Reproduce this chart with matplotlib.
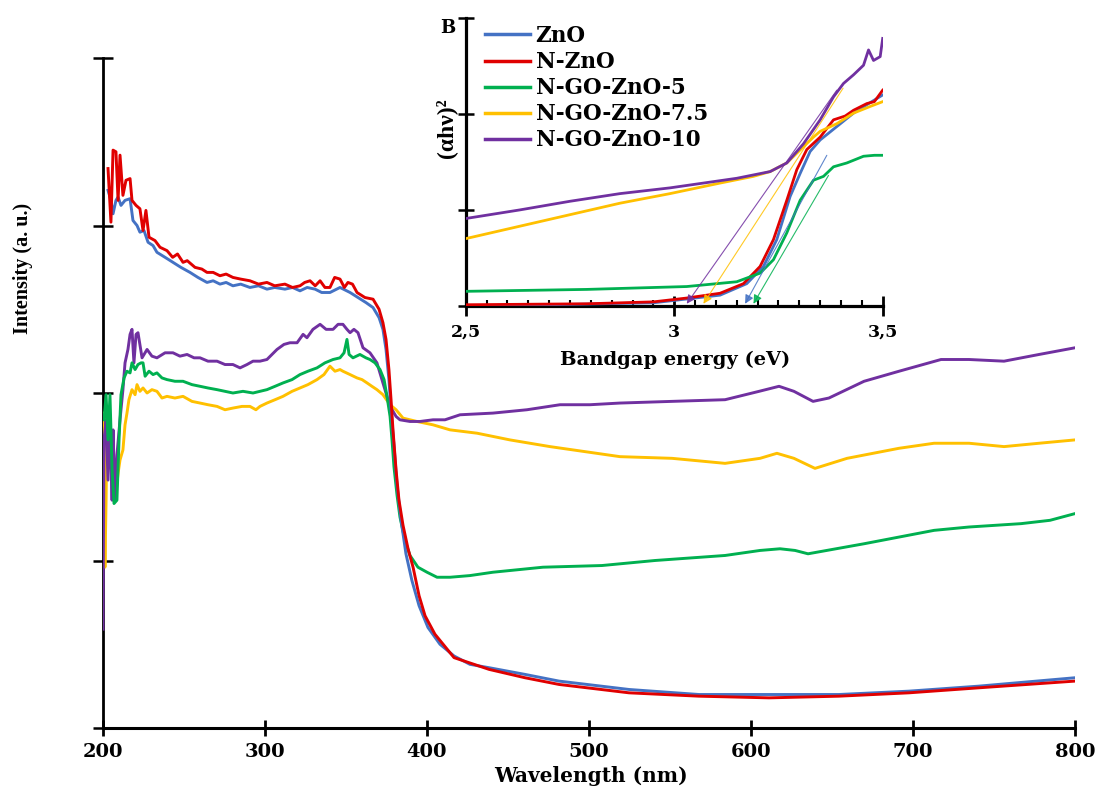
import matplotlib
matplotlib.use("Agg")
import matplotlib.pyplot as plt
from matplotlib.ticker import MultipleLocator, NullFormatter
from matplotlib.lines import Line2D

plt.rcParams["font.family"] = ["DejaVu Serif"]
plt.rcParams["font.weight"] = "bold"

# ---------------- UV-Vis reflectance spectra (main panel) ----------------
labels = ["ZnO", "N-ZnO", "N-GO-ZnO-5", "N-GO-ZnO-7.5", "N-GO-ZnO-10"]
colors = ["#4472C4", "#E00000", "#00B050", "#FFC000", "#7030A0"]

wl_zno = [203.1, 204.9, 206.2, 208.0, 209.3, 211.1, 213.6, 216.7, 218.5, 221.0, 222.8, 225.3,
          227.8, 230.9, 233.3, 238.3, 243.2, 248.1, 253.7, 258.6, 264.2, 268.0, 272.2, 276.0,
          280.2, 285.0, 290.7, 296.0, 301.2, 306.0, 312.3, 317.0, 321.6, 326.0, 330.9, 335.0,
          340.1, 346.3, 352.5, 357.4, 362.3, 366.7, 370.4, 372.8,
          374.7, 376.5, 377.8, 379.6, 381.5, 384.0, 387.0, 390.7, 395.1, 400.6, 408.0, 416.7,
          426.5, 438.3, 460.5, 481.5, 524.7, 567.9, 611.1, 654.3, 697.5, 740.7, 800.0]
int_zno = [3.21, 3.15, 3.07, 3.15, 3.17, 3.12, 3.15, 3.16, 3.03, 3.00, 2.96, 2.97,
           2.90, 2.88, 2.84, 2.81, 2.78, 2.75, 2.72, 2.69, 2.66, 2.67, 2.65, 2.66,
           2.64, 2.65, 2.63, 2.64, 2.62, 2.63, 2.62, 2.63, 2.61, 2.63, 2.62, 2.60,
           2.60, 2.63, 2.60, 2.57, 2.54, 2.51, 2.45, 2.38,
           2.26, 2.08, 1.90, 1.69, 1.45, 1.24, 1.04, 0.88, 0.73, 0.60, 0.50, 0.43,
           0.38, 0.36, 0.32, 0.28, 0.23, 0.20, 0.20, 0.20, 0.22, 0.25, 0.30]

wl_nzno = [203.1, 204.9, 206.2, 208.0, 209.3, 210.5, 212.3, 214.2, 216.7, 217.9, 220.4, 222.8,
           224.7, 226.5, 228.4, 232.1, 235.2, 239.5, 243.0, 246.0, 249.4, 252.0, 256.8, 261.0,
           264.2, 268.0, 272.2, 276.0, 280.2, 285.0, 290.7, 296.0, 301.2, 306.0, 312.3, 317.0,
           321.6, 324.5, 327.8, 331.0, 334.0, 337.0, 340.1, 343.0, 346.3, 349.0, 351.2, 354.0,
           356.8, 361.7, 366.7, 370.4, 372.8, 374.7,
           376.5, 377.8, 379.0, 380.9, 382.7, 385.2, 388.3, 391.4, 395.1, 398.8, 404.9, 416.7,
           438.3, 460.5, 481.5, 524.7, 567.9, 611.1, 654.3, 697.5, 740.7, 800.0]
int_nzno = [3.34, 3.02, 3.45, 3.44, 3.15, 3.42, 3.18, 3.27, 3.28, 3.15, 3.12, 3.10,
            2.97, 3.09, 2.93, 2.91, 2.87, 2.85, 2.81, 2.83, 2.78, 2.79, 2.75, 2.74,
            2.72, 2.72, 2.70, 2.71, 2.69, 2.68, 2.67, 2.65, 2.66, 2.64, 2.65, 2.63,
            2.64, 2.66, 2.67, 2.64, 2.67, 2.63, 2.63, 2.69, 2.68, 2.63, 2.66, 2.65,
            2.60, 2.57, 2.56, 2.50, 2.42, 2.32,
            2.14, 1.96, 1.78, 1.54, 1.36, 1.21, 1.07, 0.96, 0.79, 0.67, 0.56, 0.42,
            0.35, 0.30, 0.26, 0.21, 0.19, 0.18, 0.19, 0.21, 0.24, 0.28]

wl_go5 = [200.6, 201.9, 203.1, 204.3, 205.6, 206.8, 208.6, 209.9, 211.1, 213.0, 214.8, 216.7,
          217.9, 219.8, 221.6, 223.5, 224.7, 226.0, 228.4, 230.9, 233.3, 236.4, 239.5, 244.4,
          249.4, 254.9, 259.9, 264.8, 270.4, 275.3, 280.2, 286.4, 292.6, 296.9, 301.2, 306.2,
          311.1, 316.7, 321.6, 326.5, 332.1, 337.0, 342.0, 346.3, 348.8, 350.6, 351.9, 354.3,
          358.6, 362.3, 364.8, 367.9, 371.0, 373.5, 375.3, 377.2, 378.4, 379.6, 381.5, 383.3,
          386.4, 389.5, 394.4, 400.0, 406.2, 414.2, 426.5, 440.7, 471.6, 508.0, 540.7, 584.0,
          605.6, 617.9, 627.2, 635.2, 669.8, 713.0, 734.6, 766.7, 784.6, 800.0]
int_go5 = [1.84, 1.99, 1.72, 1.99, 1.54, 1.34, 1.36, 1.72, 1.99, 2.09, 2.13, 2.12,
           2.18, 2.14, 2.17, 2.18, 2.18, 2.10, 2.13, 2.11, 2.12, 2.09, 2.08, 2.07,
           2.07, 2.05, 2.04, 2.03, 2.02, 2.01, 2.00, 2.01, 2.00, 2.01, 2.02, 2.04,
           2.06, 2.08, 2.11, 2.13, 2.15, 2.18, 2.20, 2.21, 2.24, 2.32, 2.23, 2.21,
           2.23, 2.21, 2.20, 2.18, 2.14, 2.08, 1.98, 1.86, 1.72, 1.56, 1.39, 1.26,
           1.12, 1.03, 0.96, 0.93, 0.90, 0.90, 0.91, 0.93, 0.96, 0.97, 1.00, 1.03,
           1.06, 1.07, 1.06, 1.04, 1.10, 1.18, 1.20, 1.22, 1.24, 1.28]

wl_go75 = [200.0, 201.2, 201.9, 202.5, 203.7, 204.9, 206.2, 207.4, 209.3, 210.5, 212.3, 213.6,
           214.8, 216.0, 217.9, 219.8, 221.0, 222.8, 224.7, 227.2, 230.2, 233.3, 236.4, 239.5,
           244.4, 249.4, 254.9, 259.9, 264.8, 270.4, 275.3, 280.2, 285.8, 290.7, 294.4, 296.9,
           301.2, 306.2, 311.1, 316.7, 321.6, 326.5, 332.1, 336.4, 340.1, 343.2, 346.3, 348.1,
           352.5, 356.8, 359.9, 363.0, 366.0, 369.1, 372.8, 377.2, 380.9, 385.2, 393.8, 403.7,
           414.2, 430.9, 451.2, 475.9, 497.5, 519.1, 551.2, 584.0, 605.6, 616.0, 626.5, 639.5,
           659.3, 691.4, 713.0, 734.6, 756.2, 777.8, 800.0]
int_go75 = [1.88, 0.96, 1.36, 1.88, 1.72, 1.60, 1.62, 1.36, 1.52, 1.60, 1.66, 1.81,
            1.88, 1.96, 2.02, 1.99, 2.05, 2.01, 2.03, 2.00, 2.02, 2.01, 1.97, 1.98,
            1.97, 1.98, 1.95, 1.94, 1.93, 1.92, 1.90, 1.91, 1.92, 1.92, 1.90, 1.92,
            1.94, 1.96, 1.98, 2.01, 2.03, 2.05, 2.08, 2.11, 2.16, 2.13, 2.14, 2.13,
            2.11, 2.09, 2.08, 2.06, 2.04, 2.02, 1.99, 1.93, 1.90, 1.85, 1.83, 1.81,
            1.78, 1.76, 1.72, 1.68, 1.65, 1.62, 1.61, 1.58, 1.61, 1.64, 1.61, 1.55,
            1.61, 1.67, 1.70, 1.70, 1.68, 1.70, 1.72]

wl_go10 = [200.0, 200.6, 201.9, 203.1, 204.3, 205.6, 206.2, 207.4, 208.6, 210.5, 212.3, 213.6,
           215.4, 216.7, 217.9, 219.1, 220.4, 221.6, 224.1, 227.2, 230.2, 233.3, 238.3, 243.2,
           247.5, 251.9, 256.2, 259.9, 264.8, 270.4, 275.3, 280.2, 284.6, 288.9, 292.6, 296.9,
           301.2, 304.3, 307.4, 311.7, 315.4, 319.8, 323.5, 325.9, 329.6, 334.0, 337.7, 342.0,
           345.1, 348.1, 350.6, 352.5, 354.9, 357.4, 360.5, 364.8, 369.1, 372.8, 377.2, 380.9,
           383.3, 389.5, 395.7, 403.7, 411.1, 420.4, 440.7, 461.7, 482.1, 500.6, 519.1, 551.2,
           584.0, 605.0, 617.3, 626.5, 638.3, 648.1, 669.8, 691.4, 717.3, 734.6, 756.2, 777.8,
           800.0]
int_go10 = [0.59, 1.72, 1.84, 1.48, 1.87, 1.36, 1.78, 1.36, 1.63, 1.84, 2.02, 2.18,
            2.26, 2.35, 2.38, 2.18, 2.35, 2.36, 2.21, 2.26, 2.22, 2.21, 2.24, 2.24,
            2.22, 2.23, 2.21, 2.21, 2.19, 2.19, 2.17, 2.17, 2.15, 2.17, 2.19, 2.19,
            2.20, 2.23, 2.26, 2.29, 2.30, 2.30, 2.35, 2.33, 2.38, 2.41, 2.38, 2.38,
            2.41, 2.41, 2.38, 2.36, 2.38, 2.36, 2.27, 2.24, 2.18, 2.06, 1.92, 1.86,
            1.84, 1.83, 1.83, 1.84, 1.84, 1.87, 1.88, 1.90, 1.93, 1.93, 1.94, 1.95,
            1.96, 2.01, 2.04, 2.01, 1.95, 1.97, 2.07, 2.13, 2.20, 2.20, 2.19, 2.23,
            2.27]

wavelength_ticks = [200, 300, 400, 500, 600, 700, 800]

# ---------------- Tauc plot (inset) ----------------
ev_zno = [2.5, 2.7, 2.95, 3.11, 3.174, 3.214, 3.246, 3.278, 3.302, 3.326, 3.35, 3.39, 3.43, 3.47, 3.5]
tauc_zno = [0.0, 0.01, 0.03, 0.11, 0.23, 0.41, 0.69, 1.14, 1.38, 1.61, 1.73, 1.87, 2.01, 2.12, 2.20]

ev_nzno = [2.5, 2.79, 2.95, 3.03, 3.11, 3.166, 3.206, 3.238, 3.27, 3.294, 3.318, 3.35, 3.382,
           3.41, 3.43, 3.462, 3.48, 3.5]
tauc_nzno = [0.01, 0.02, 0.04, 0.08, 0.13, 0.23, 0.41, 0.69, 1.10, 1.42, 1.63, 1.76, 1.94,
             1.98, 2.04, 2.11, 2.13, 2.25]

ev_go5 = [2.5, 2.79, 3.03, 3.15, 3.206, 3.238, 3.27, 3.302, 3.334, 3.358, 3.382, 3.414, 3.454, 3.48, 3.5]
tauc_go5 = [0.15, 0.17, 0.20, 0.25, 0.34, 0.48, 0.76, 1.10, 1.31, 1.35, 1.45, 1.49, 1.56, 1.57, 1.57]

ev_go75 = [2.5, 2.63, 2.75, 2.87, 2.99, 3.11, 3.19, 3.23, 3.27, 3.31, 3.334, 3.35, 3.39, 3.43, 3.47, 3.5]
tauc_go75 = [0.70, 0.83, 0.95, 1.07, 1.17, 1.28, 1.35, 1.40, 1.49, 1.66, 1.76, 1.82, 1.90, 2.01, 2.08, 2.13]

ev_go10 = [2.5, 2.63, 2.75, 2.87, 2.99, 3.07, 3.15, 3.23, 3.27, 3.31, 3.35, 3.382, 3.406, 3.43,
           3.454, 3.466, 3.478, 3.494, 3.5]
tauc_go10 = [0.91, 1.00, 1.09, 1.17, 1.23, 1.28, 1.33, 1.40, 1.49, 1.69, 1.94, 2.18, 2.32, 2.41,
             2.51, 2.67, 2.56, 2.60, 2.79]

# Linear extrapolations to the energy axis: (upper end eV, upper end value, band gap eV)
fit_colors = ["#4472C4", "#00B050", "#FFC000", "#7030A0"]
fit_top_ev = [3.366, 3.370, 3.405, 3.390]
fit_top_val = [1.57, 1.36, 2.27, 2.25]
band_gap = [3.17, 3.19, 3.07, 3.03]

energy_ticks = [2.5, 3.0, 3.5]
energy_ticklabels = ["2,5", "3", "3,5"]

# ---------------- figure ----------------
W, H = 1097, 791
fig = plt.figure(figsize=(W / 100, H / 100), dpi=100)

ax = fig.add_axes([103 / W, 1 - 728 / H, 972 / W, 670 / H])
main_series = [(wl_go75, int_go75, 3), (wl_go10, int_go10, 4), (wl_go5, int_go5, 2),
               (wl_zno, int_zno, 0), (wl_nzno, int_nzno, 1)]
for x, y, k in main_series:
    ax.plot(x, y, color=colors[k], lw=2.1, solid_joinstyle="round", zorder=3)

ax.set_xlim(200, 800)
ax.set_ylim(0, 4)
ax.set_xticks(wavelength_ticks)
ax.set_yticks([0, 1, 2, 3, 4])
ax.yaxis.set_major_formatter(NullFormatter())
for s in ["top", "right"]:
    ax.spines[s].set_visible(False)
ax.spines["left"].set_linewidth(2.0)
ax.spines["bottom"].set_linewidth(2.2)
ax.tick_params(axis="x", direction="inout", length=12, width=2.0, pad=5, labelsize=14)
ax.tick_params(axis="y", direction="inout", length=15, width=1.8)
for t in ax.get_xticklabels():
    t.set_fontweight("bold")

fig.text(591 / W, 1 - 782 / H, "Wavelength (nm)", ha="center", va="baseline",
         fontsize=14.5, fontweight="bold")
fig.text(23 / W, 1 - 268 / H, "Intensity (a. u.)", rotation=90, ha="center", va="center",
         fontsize=14.5, fontweight="bold", family=["Liberation Serif", "DejaVu Serif"])

# ---------------- inset ----------------
axi = fig.add_axes([465.7 / W, 1 - 305.7 / H, 417 / W, 287.4 / H])
axi.set_facecolor("none")
inset_series = [(ev_zno, tauc_zno, 0), (ev_nzno, tauc_nzno, 1), (ev_go5, tauc_go5, 2),
                (ev_go75, tauc_go75, 3), (ev_go10, tauc_go10, 4)]
for x, y, k in inset_series:
    axi.plot(x, y, color=colors[k], lw=2.0, solid_joinstyle="round", zorder=3)

for c, xt, yt, eg in zip(fit_colors, fit_top_ev, fit_top_val, band_gap):
    axi.annotate("", xy=(eg, 0.02), xytext=(xt, yt),
                 arrowprops=dict(arrowstyle="-|>", color=c, lw=0.8, alpha=0.85,
                                 mutation_scale=13, shrinkA=0, shrinkB=0),
                 zorder=4)

axi.set_xlim(2.5, 3.5)
axi.set_ylim(0, 3)
axi.set_xticks(energy_ticks)
axi.set_xticklabels(energy_ticklabels)
axi.xaxis.set_minor_locator(MultipleLocator(0.05))
axi.set_yticks([0, 1, 2, 3])
axi.yaxis.set_major_formatter(NullFormatter())
for s in ["top", "right"]:
    axi.spines[s].set_visible(False)
axi.spines["left"].set_linewidth(2.3)
axi.spines["bottom"].set_linewidth(2.3)
axi.tick_params(axis="x", which="major", direction="inout", length=14, width=2.0, pad=6,
                labelsize=12.5)
axi.tick_params(axis="x", which="minor", direction="in", length=4, width=1.5)
axi.tick_params(axis="y", direction="inout", length=12, width=1.8)
for t in axi.get_xticklabels():
    t.set_fontweight("bold")

fig.text(675 / W, 1 - 365 / H, "Bandgap energy (eV)", ha="center", va="baseline",
         fontsize=14, fontweight="bold")
fig.text(446 / W, 1 - 128 / H, "(αhν)²", rotation=90, ha="center", va="center",
         fontsize=17, fontweight="bold", family=["Liberation Serif", "DejaVu Serif"])
fig.text(440 / W, 1 - 33 / H, "B", ha="left", va="baseline", fontsize=13, fontweight="bold")

handles = [Line2D([], [], color=c, lw=2.5) for c in colors]
leg = axi.legend(handles, labels, loc="upper left", bbox_to_anchor=(485 / W, 1 - 25 / H),
                 bbox_transform=fig.transFigure, frameon=False, borderpad=0,
                 borderaxespad=0, handlelength=2.1, handletextpad=0.25, labelspacing=0.19,
                 prop=dict(family="DejaVu Serif", weight="bold", size=15.5))

fig.savefig("out.png", dpi=100)
